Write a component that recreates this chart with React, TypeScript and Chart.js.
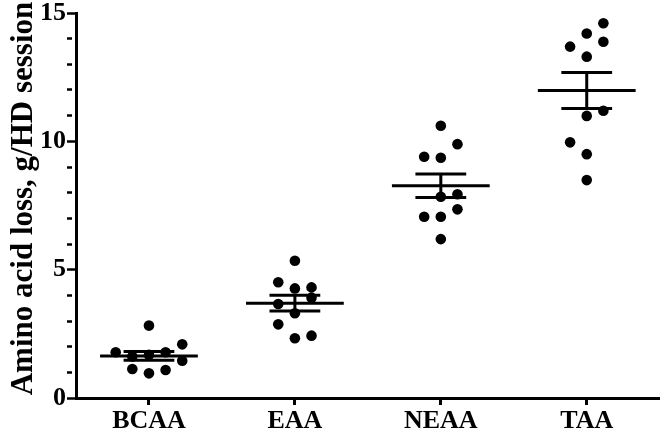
import React, { useEffect, useRef } from "react";
import { Chart, registerables } from "chart.js";

Chart.register(...registerables);

const categories = ["BCAA", "EAA", "NEAA", "TAA"];
const yTickValues = [0, 5, 10, 15];
const yTitle = "Amino acid loss, g/HD session";

const bcaa = [2.82, 1.78, 2.09, 1.78, 1.45, 1.13, 0.96, 1.09, 1.62, 1.68];
const eaa = [5.35, 4.51, 4.27, 4.31, 3.91, 3.66, 3.3, 2.87, 2.33, 2.43];
const neaa = [10.61, 9.89, 9.4, 9.36, 7.84, 7.94, 7.35, 7.06, 7.06, 6.19];
const taa = [14.6, 14.2, 13.88, 13.69, 13.3, 11.19, 10.99, 9.96, 9.5, 8.49];

// column (jitter slot) each dot sits in
const bcaaSlot = [0, -2, 2, 1, 2, -1, 0, 1, -1, 0];
const eaaSlot = [0, -1, 0, 1, 1, -1, 0, -1, 0, 1];
const neaaSlot = [0, 1, -1, 0, 0, 1, 1, -1, 0, 0];
const taaSlot = [1, 0, 1, -1, 0, 1, 0, -1, 0, 0];

const groups = [bcaa, eaa, neaa, taa];
const slots = [bcaaSlot, eaaSlot, neaaSlot, taaSlot];

const FONT = "'Liberation Serif', 'Times New Roman', serif";
const SLOT_W = 0.114;
const MEAN_HALF = 0.335;
const SEM_HALF = 0.174;

function stats(v: number[]) {
  const n = v.length;
  const m = v.reduce((a, b) => a + b, 0) / n;
  const sd = Math.sqrt(v.reduce((a, b) => a + (b - m) * (b - m), 0) / (n - 1));
  return { mean: m, sem: sd / Math.sqrt(n) };
}

const meanSemPlugin = {
  id: "meanSem",
  afterDatasetsDraw(chart: any) {
    const ctx = chart.ctx;
    const xs = chart.scales.x;
    const ys = chart.scales.y;
    ctx.save();
    ctx.strokeStyle = "#000";
    ctx.lineWidth = 3;
    ctx.lineCap = "butt";
    groups.forEach((g, i) => {
      const { mean, sem } = stats(g);
      const ym = ys.getPixelForValue(mean);
      const yu = ys.getPixelForValue(mean + sem);
      const yl = ys.getPixelForValue(mean - sem);
      const xc = xs.getPixelForValue(i);
      ctx.beginPath();
      ctx.moveTo(xs.getPixelForValue(i - MEAN_HALF), ym);
      ctx.lineTo(xs.getPixelForValue(i + MEAN_HALF), ym);
      ctx.moveTo(xs.getPixelForValue(i - SEM_HALF), yu);
      ctx.lineTo(xs.getPixelForValue(i + SEM_HALF), yu);
      ctx.moveTo(xs.getPixelForValue(i - SEM_HALF), yl);
      ctx.lineTo(xs.getPixelForValue(i + SEM_HALF), yl);
      ctx.moveTo(xc, yu);
      ctx.lineTo(xc, yl);
      ctx.stroke();
    });
    ctx.restore();
  },
};

const yTitlePlugin = {
  id: "yTitle",
  afterDraw(chart: any) {
    const ctx = chart.ctx;
    const ys = chart.scales.y;
    const cy = (ys.top + ys.bottom) / 2 - 7;
    ctx.save();
    ctx.translate(32, cy);
    ctx.rotate(-Math.PI / 2);
    ctx.font = `bold 31px ${FONT}`;
    ctx.fillStyle = "#000";
    ctx.textAlign = "center";
    ctx.textBaseline = "alphabetic";
    ctx.fillText(yTitle, 0, 0);
    ctx.restore();
  },
};

export default function App() {
  const ref = useRef<HTMLCanvasElement | null>(null);
  useEffect(() => {
    if (!ref.current) return;
    const datasets = groups.map((g, i) => ({
      type: "scatter" as const,
      label: categories[i],
      data: g.map((v, k) => ({ x: i + slots[i][k] * SLOT_W, y: v })),
      pointRadius: 5.3,
      pointBackgroundColor: "#000",
      pointBorderWidth: 0,
      pointHoverRadius: 5.3,
    }));
    const chart = new Chart(ref.current, {
      type: "scatter",
      data: { datasets },
      plugins: [meanSemPlugin, yTitlePlugin],
      options: {
        animation: false,
        responsive: false,
        events: [],
        layout: { padding: { top: 13, right: 4, left: 0, bottom: 0 } },
        plugins: { legend: { display: false }, tooltip: { enabled: false } },
        scales: {
          x: {
            type: "linear",
            min: -0.5,
            max: 3.5,
            afterBuildTicks(scale: any) {
              scale.ticks = categories.map((_, i) => ({ value: i }));
            },
            afterFit(scale: any) {
              scale.height = 35;
              scale.paddingLeft = 0;
              scale.paddingRight = 0;
            },
            border: { display: true, color: "#000", width: 3 },
            grid: {
              display: true,
              drawOnChartArea: false,
              drawTicks: true,
              tickLength: 7,
              tickWidth: 3,
              tickColor: "#000",
            },
            ticks: {
              autoSkip: false,
              maxRotation: 0,
              padding: 1,
              color: "#000",
              font: { family: FONT, size: 26, weight: "bold" },
              callback: (v: any) => categories[Math.round(Number(v))] ?? "",
            },
          },
          y: {
            type: "linear",
            min: yTickValues[0],
            max: yTickValues[yTickValues.length - 1],
            afterFit(scale: any) {
              scale.width = 76;
              scale.paddingTop = 0;
              scale.paddingBottom = 0;
            },
            border: { display: true, color: "#000", width: 3 },
            grid: {
              display: true,
              drawOnChartArea: false,
              drawTicks: true,
              tickLength: 9,
              tickWidth: 2.5,
              tickColor: "#000",
              tickBorderDash: (c: any) =>
                c.tick && yTickValues.includes(c.tick.value) ? [] : [5, 100],
            },
            ticks: {
              stepSize: 1,
              autoSkip: false,
              padding: 1,
              color: "#000",
              font: { family: FONT, size: 26, weight: "bold" },
              callback: (v: any) => (yTickValues.includes(Number(v)) ? String(v) : ""),
            },
          },
        },
      } as any,
    });
    return () => chart.destroy();
  }, []);
  return (
    <div style={{ position: "fixed", left: 0, top: 0, width: 665, height: 433, background: "#fff" }}>
      <canvas ref={ref} width={665} height={433} style={{ width: 665, height: 433, display: "block" }} />
    </div>
  );
}
